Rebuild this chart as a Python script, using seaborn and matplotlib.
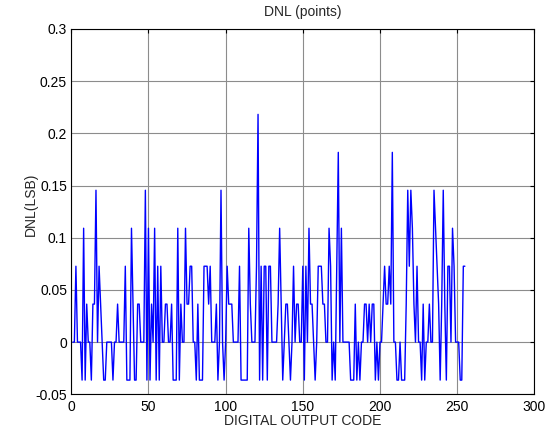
import numpy as np
import pandas as pd
import matplotlib
matplotlib.use("Agg")
import matplotlib.pyplot as plt
import seaborn as sns

# DNL values (LSB) for output codes 1..255
dnl = [
    0, 0, 0.0727, 0, 0, 0, -0.0364, 0.1091, -0.0364, 0.0364,
    0, 0, -0.0364, 0.0364, 0.0364, 0.1455, 0, 0.0727, 0.0364, 0,
    -0.0364, -0.0364, 0, 0, 0, 0, -0.0364, 0, 0, 0.0364,
    0, 0, 0, 0, 0.0727, -0.0364, -0.0364, -0.0364, 0.1091, 0.0364,
    -0.0364, -0.0364, 0.0364, 0.0364, 0, 0, 0, 0.1455, -0.0364, 0.1091,
    -0.0364, 0.0364, 0, 0.1091, -0.0364, 0.0727, -0.0364, 0.0727, 0, 0,
    0.0364, 0.0364, 0, 0, 0.0364, -0.0364, -0.0364, -0.0364, 0.1091, -0.0364,
    0.0364, 0, 0, 0.1091, 0.0364, 0.0364, 0.0727, 0.0727, 0, 0,
    -0.0364, 0.0364, -0.0364, -0.0364, -0.0364, 0.0727, 0.0727, 0.0727, 0.0364, 0.0727,
    0, 0, 0, 0.0364, -0.0364, 0, 0.1455, 0, -0.0364, 0,
    0.0727, 0.0364, 0.0364, 0.0364, 0, 0, 0, 0, 0.0727, -0.0364,
    -0.0364, -0.0364, -0.0364, -0.0364, 0.1091, 0.0364, 0, 0, 0, 0.0727,
    0.2182, -0.0364, 0.0727, -0.0364, 0.0727, 0.0727, -0.0364, 0.0727, 0.0727, 0,
    0, 0, 0, 0.0364, 0.1091, 0.0364, -0.0364, 0, 0.0364, 0.0364,
    0, -0.0364, 0, 0.0727, 0, 0.0364, 0.0364, 0, 0, 0.0727,
    -0.0364, 0.0727, 0, 0.1091, 0.0364, 0.0364, 0, -0.0364, 0, 0.0727,
    0.0727, 0.0727, 0.0364, 0.0364, 0, 0, 0.1091, 0.0727, -0.0364, 0,
    -0.0364, 0.0727, 0.1818, 0, 0.1091, 0, 0, 0, 0, 0,
    -0.0364, -0.0364, -0.0364, 0.0364, -0.0364, 0, -0.0364, 0, 0, 0.0364,
    0.0364, 0, 0.0364, 0, 0.0364, 0.0364, -0.0364, 0, -0.0364, 0,
    0, 0.0364, 0.0727, 0.0364, 0.0364, 0.0727, 0.0364, 0.1818, 0, 0,
    -0.0364, -0.0364, 0, -0.0364, -0.0364, -0.0364, 0.0364, 0.1455, 0.0727, 0.1455,
    0.1091, 0.0364, 0, 0.0727, 0, 0, -0.0364, 0.0364, -0.0364, 0,
    0, 0.0364, 0, 0, 0.1455, 0.1091, 0.0727, 0.0364, -0.0364, 0.0364,
    0.1455, 0.0364, -0.0364, 0.0727, 0.0727, 0, 0.1091, 0.0727, 0, 0,
    0, -0.0364, -0.0364, 0.0727, 0.0727,
]
codes = np.arange(1, len(dnl) + 1)

x_ticks = [0, 50, 100, 150, 200, 250, 300]
y_ticks = [-0.05, 0, 0.05, 0.1, 0.15, 0.2, 0.25, 0.3]
y_tick_labels = ["-0.05", "0", "0.05", "0.1", "0.15", "0.2", "0.25", "0.3"]

sns.set_style("white")
plt.rcParams["font.family"] = ["Liberation Sans", "DejaVu Sans"]

df = pd.DataFrame({"code": codes, "dnl": dnl})

fig = plt.figure(figsize=(5.45, 4.32), dpi=100)
ax = fig.add_axes([0.1308, 0.0873, 0.8496, 0.8456])

sns.lineplot(data=df, x="code", y="dnl", color="#0000ff", linewidth=1.0, ax=ax)

ax.set_xlim(0, 300)
ax.set_ylim(-0.05, 0.3)
ax.set_xticks(x_ticks)
ax.set_yticks(y_ticks)
ax.set_yticklabels(y_tick_labels)
ax.grid(True, color="#8c8c8c", linewidth=0.8, linestyle="-")
ax.set_axisbelow(True)
ax.tick_params(direction="in", length=3, width=0.8, labelsize=10,
               top=True, right=True, colors="black")
ax.tick_params(axis="x", pad=4)
ax.tick_params(axis="y", pad=3)
for s in ax.spines.values():
    s.set_color("black")
    s.set_linewidth(0.8)

ax.set_title("DNL (points)", fontsize=10, pad=9)
ax.set_xlabel("DIGITAL OUTPUT CODE", fontsize=10, labelpad=0)
ax.set_ylabel("DNL(LSB)", fontsize=10)
ax.yaxis.set_label_coords(-0.073, 0.52)

fig.savefig("out.png", dpi=100, facecolor="white")
